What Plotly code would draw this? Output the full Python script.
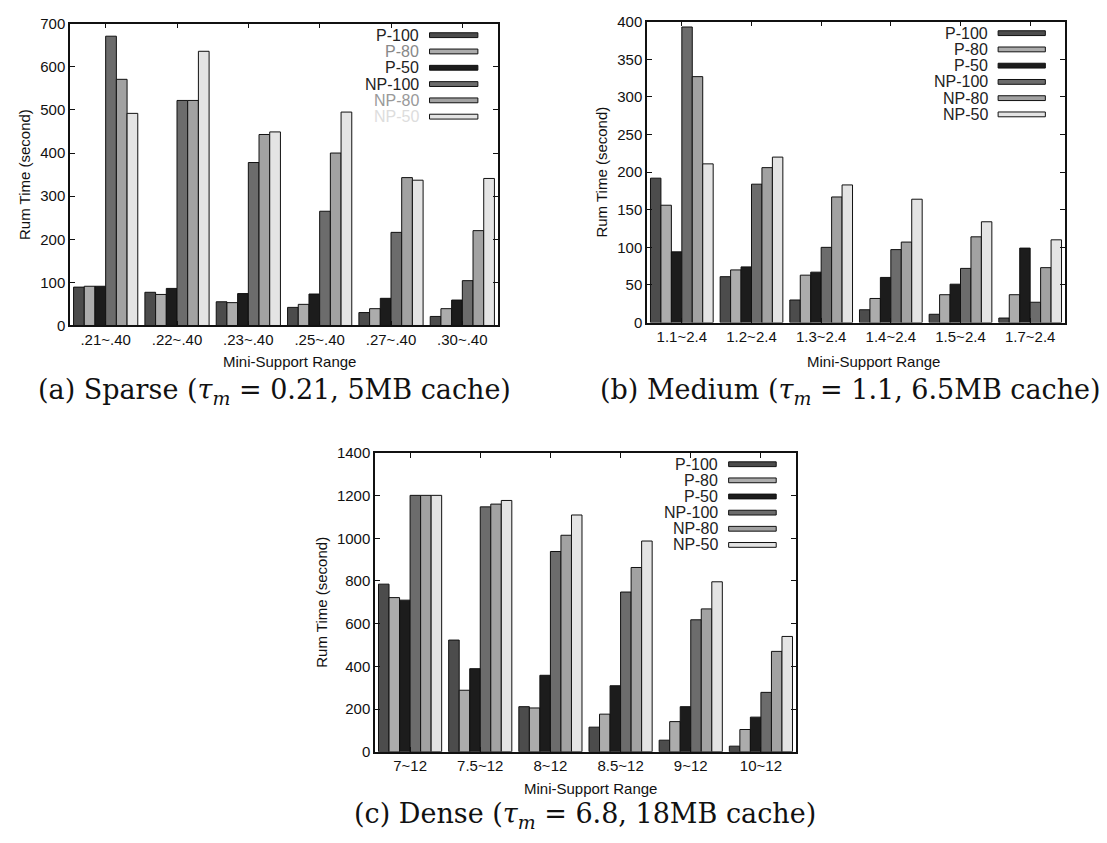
import plotly.graph_objects as go

series = ["P-100", "P-80", "P-50", "NP-100", "NP-80", "NP-50"]
colors = ["#4c4c4c", "#acacac", "#1c1c1c", "#6c6c6c", "#a2a2a2", "#e4e4e4"]

cats_a = [".21~.40", ".22~.40", ".23~.40", ".25~.40", ".27~.40", ".30~.40"]
sparse = {
    "P-100": [89, 77, 55, 42, 30, 21],
    "P-80": [91, 72, 53, 49, 39, 39],
    "P-50": [91, 86, 74, 73, 63, 59],
    "NP-100": [671, 522, 378, 265, 216, 104],
    "NP-80": [571, 522, 443, 400, 343, 220],
    "NP-50": [492, 636, 449, 495, 337, 341],
}

cats_b = ["1.1~2.4", "1.2~2.4", "1.3~2.4", "1.4~2.4", "1.5~2.4", "1.7~2.4"]
medium = {
    "P-100": [192, 61, 30, 17, 11, 6],
    "P-80": [156, 70, 63, 32, 37, 37],
    "P-50": [94, 74, 67, 60, 51, 99],
    "NP-100": [393, 184, 100, 97, 72, 27],
    "NP-80": [327, 206, 167, 107, 114, 73],
    "NP-50": [211, 220, 183, 164, 134, 110],
}

cats_c = ["7~12", "7.5~12", "8~12", "8.5~12", "9~12", "10~12"]
dense = {
    "P-100": [785, 523, 211, 115, 54, 26],
    "P-80": [722, 288, 205, 176, 141, 104],
    "P-50": [710, 389, 358, 309, 211, 162],
    "NP-100": [1201, 1147, 938, 748, 618, 278],
    "NP-80": [1201, 1160, 1014, 863, 669, 470],
    "NP-50": [1201, 1177, 1109, 987, 796, 540],
}

captions = [
    "(a) Sparse (<i>τ</i><sub><i>m</i></sub> = 0.21, 5MB cache)",
    "(b) Medium (<i>τ</i><sub><i>m</i></sub> = 1.1, 6.5MB cache)",
    "(c) Dense (<i>τ</i><sub><i>m</i></sub> = 6.8, 18MB cache)",
]
yranges = [700, 400, 1400]
ydticks = [100, 50, 200]
legend_text_colors = [
    ["#222", "#888", "#222", "#222", "#999", "#ddd"],
    ["#222"] * 6,
    ["#222"] * 6,
]

W, H = 1107, 843
# pixel boxes of plot areas: (left, right, top, bottom)
boxes = [(70, 498, 15, 323), (647, 1065, 13, 320), (375, 796, 453, 758)]
caption_pos = [(274, 390), (850, 390), (585, 823)]
xtitle_pos = [(289, 360), (873, 360), (590, 796)]

SANS = "Liberation Sans, Arial, sans-serif"
SERIF = "DejaVu Serif, serif"

fig = go.Figure()
datasets = [(cats_a, sparse), (cats_b, medium), (cats_c, dense)]

for i, (cats, data) in enumerate(datasets):
    ax = "" if i == 0 else str(i + 1)
    for s, c in zip(series, colors):
        fig.add_trace(go.Bar(
            x=cats, y=data[s], name=s, marker=dict(color=c, line=dict(color="#111", width=1)),
            xaxis="x" + ax, yaxis="y" + ax, showlegend=False,
        ))
    l, r, t, b = boxes[i]
    fig.layout["xaxis" + ax] = dict(
        domain=[l / W, r / W], anchor="y" + ax, showline=True, linecolor="#111", linewidth=1.5,
        mirror="ticks", ticks="inside", ticklen=5, tickcolor="#111", showgrid=False,
        tickfont=dict(family=SANS, size=15, color="#111"), range=[-0.5, 5.5],
    )
    fig.layout["yaxis" + ax] = dict(
        domain=[1 - b / H, 1 - t / H], anchor="x" + ax, showline=True, linecolor="#111", linewidth=1.5,
        mirror="ticks", ticks="inside", ticklen=5, tickcolor="#111", showgrid=False,
        range=[0, yranges[i]], dtick=ydticks[i], zeroline=False,
        tickfont=dict(family=SANS, size=15, color="#111"),
        title=dict(text="Rum Time (second)", font=dict(family=SANS, size=15, color="#111"), standoff=6),
    )
    # legend (gnuplot style: label then swatch)
    for k, (s, c) in enumerate(zip(series, colors)):
        yy = 0.962 - 0.054 * k
        fig.add_annotation(
            x=0.82, y=yy, xref="x" + ax + " domain", yref="y" + ax + " domain",
            text=s, showarrow=False, xanchor="right", yanchor="middle",
            font=dict(family=SANS, size=16, color=legend_text_colors[i][k]),
        )
        fig.add_shape(
            type="rect", x0=0.84, x1=0.953, y0=yy - 0.008, y1=yy + 0.008,
            xref="x" + ax + " domain", yref="y" + ax + " domain",
            fillcolor=c, line=dict(color="#111", width=1),
        )
    cx, cy = caption_pos[i]
    fig.add_annotation(x=cx / W, y=1 - cy / H, xref="paper", yref="paper", text=captions[i],
                       xanchor="center", yanchor="middle",
                       showarrow=False, font=dict(family=SERIF, size=27, color="#111"))
    tx, ty = xtitle_pos[i]
    fig.add_annotation(x=tx / W, y=1 - ty / H, xref="paper", yref="paper", text="Mini-Support Range",
                       xanchor="center", yanchor="middle",
                       showarrow=False, font=dict(family=SANS, size=15, color="#111"))

fig.update_layout(
    width=W, height=H, margin=dict(l=0, r=0, t=0, b=0),
    paper_bgcolor="white", plot_bgcolor="white",
    barmode="group", bargap=0.1, bargroupgap=0,
)
fig.write_html("out.html")
